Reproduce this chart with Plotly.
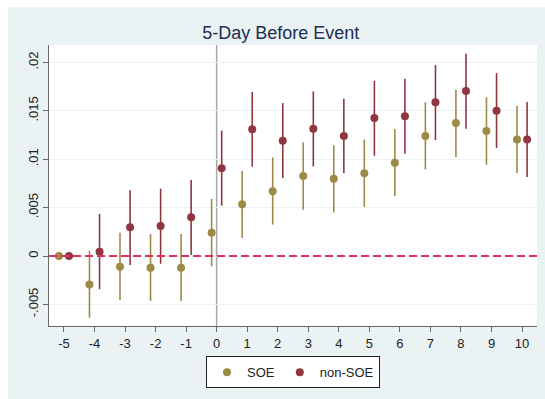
import plotly.graph_objects as go

days = [-5, -4, -3, -2, -1, 0, 1, 2, 3, 4, 5, 6, 7, 8, 9, 10]

soe = [0.0, -0.00293, -0.0011, -0.0012, -0.0012, 0.0024, 0.00534, 0.0067,
       0.00826, 0.00799, 0.00854, 0.00964, 0.0124, 0.01374, 0.01291, 0.01205]
soe_hi = [0.0, 0.00055, 0.0024, 0.00227, 0.00227, 0.0059, 0.00878, 0.0102,
          0.01174, 0.01143, 0.01202, 0.01312, 0.0159, 0.01718, 0.0164, 0.01553]
soe_lo = [0.0, -0.00637, -0.00455, -0.00465, -0.00465, -0.00107, 0.00186, 0.00324,
          0.00478, 0.00451, 0.00506, 0.0062, 0.00895, 0.01023, 0.00943, 0.00857]

non = [0.0, 0.00045, 0.00296, 0.0031, 0.004, 0.00906, 0.0131, 0.0119,
       0.01315, 0.0124, 0.01426, 0.01443, 0.01588, 0.01705, 0.01501, 0.01205]
non_hi = [0.0, 0.00434, 0.0068, 0.00696, 0.00785, 0.01295, 0.01694, 0.0158,
          0.017, 0.01625, 0.01811, 0.01832, 0.01973, 0.0209, 0.0189, 0.0159]
non_lo = [0.0, -0.00344, -0.00093, -0.0008, 0.0001, 0.0052, 0.00923, 0.00806,
          0.00926, 0.00854, 0.01036, 0.01057, 0.01198, 0.01315, 0.01116, 0.00816]

ytick_vals = [-0.005, 0, 0.005, 0.01, 0.015, 0.02]
ytick_text = ["-.005", "0", ".005", ".01", ".015", ".02"]

SOE_COL = "#9e8a47"
NON_COL = "#913640"
ZERO_COL = "#e0305f"
OFF = 0.165

fig = go.Figure()

fig.add_vline(x=0, line_color="#a8a8a8", line_width=1.5, layer="below")
fig.add_shape(type="line", xref="x domain", yref="y", x0=0, x1=1, y0=0, y1=0,
              line=dict(color=ZERO_COL, width=2, dash="8px,4px"), layer="above")


def add(name, vals, hi, lo, col, off):
    fig.add_trace(go.Scatter(
        x=[d + off for d in days], y=vals, mode="markers", name=name,
        marker=dict(color=col, size=8, line=dict(width=0)),
        error_y=dict(type="data", symmetric=False,
                     array=[h - v for h, v in zip(hi, vals)],
                     arrayminus=[v - l for v, l in zip(vals, lo)],
                     color=col, thickness=1.6, width=0),
    ))


add("SOE", soe, soe_hi, soe_lo, SOE_COL, -OFF)
add("non-SOE", non, non_hi, non_lo, NON_COL, OFF)

# white strips outside the graph region
fig.add_shape(type="rect", xref="paper", yref="paper", x0=-0.2, x1=-0.084,
              y0=-0.4, y1=1.3, fillcolor="white", line=dict(width=0), layer="above")
fig.add_shape(type="rect", xref="paper", yref="paper", x0=-0.2, x1=1.2,
              y0=1.135, y1=1.3, fillcolor="white", line=dict(width=0), layer="above")

fig.update_layout(
    width=545, height=399,
    margin=dict(l=49, r=8, t=45, b=73),
    paper_bgcolor="#eaf2f3", plot_bgcolor="white",
    font=dict(family="Liberation Sans, Arial, sans-serif", size=13, color="#222222"),
    title=dict(text="5-Day Before Event", x=0.515, xref="container", xanchor="center",
               y=0.917, yref="container", yanchor="middle",
               font=dict(size=18, color="#1e2d53")),
    showlegend=True,
    legend=dict(orientation="h", x=0.5, xanchor="center", y=-0.108, yanchor="top",
                bgcolor="white", bordercolor="#222222", borderwidth=1,
                font=dict(size=13, color="#222222"), itemwidth=30),
    xaxis=dict(range=[-5.49, 10.49], tickmode="array", tickvals=days,
               ticktext=[str(d) for d in days], showgrid=False, zeroline=False,
               showline=True, linecolor="#666666", linewidth=1,
               ticks="outside", ticklen=5, tickcolor="#666666"),
    yaxis=dict(range=[-0.00723, 0.0218], tickmode="array", tickvals=ytick_vals,
               ticktext=ytick_text, tickangle=-90, showgrid=True,
               gridcolor="#eaf2f3", gridwidth=1, zeroline=False,
               showline=True, linecolor="#666666", linewidth=1,
               ticks="outside", ticklen=5, tickcolor="#666666"),
)

fig.write_html("out.html")
